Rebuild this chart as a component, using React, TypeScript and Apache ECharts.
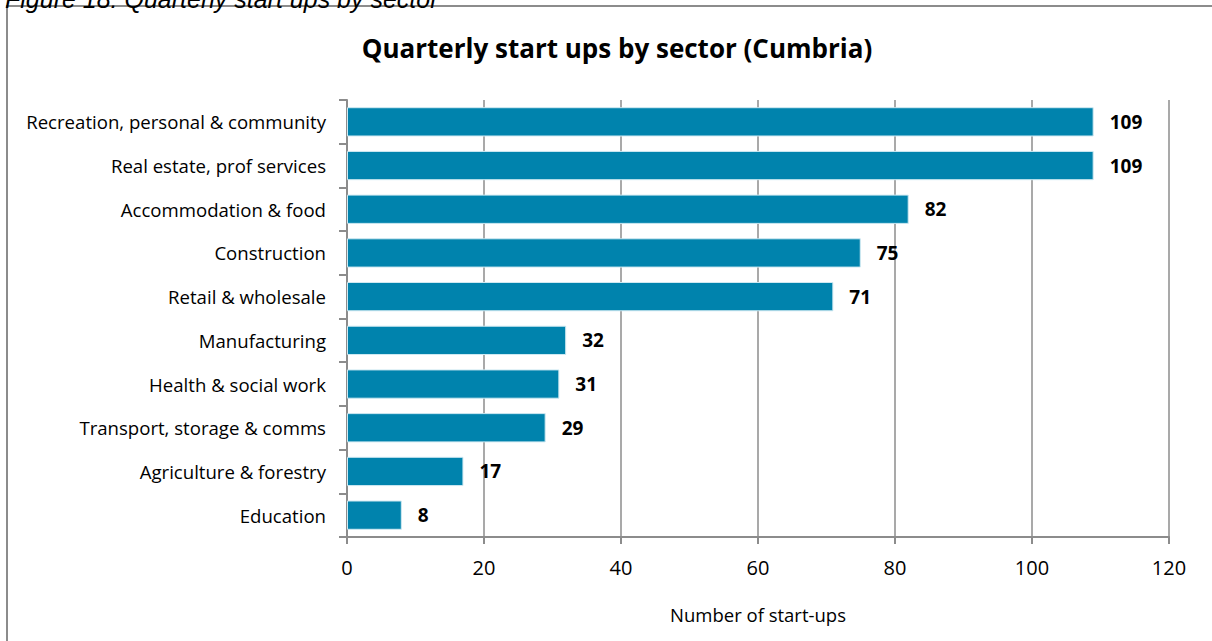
import React, { useEffect, useRef } from "react";
import * as echarts from "echarts";

const categories = [
  "Recreation, personal & community",
  "Real estate, prof services",
  "Accommodation & food",
  "Construction",
  "Retail & wholesale",
  "Manufacturing",
  "Health & social work",
  "Transport, storage & comms",
  "Agriculture & forestry",
  "Education",
];
const startUps = [109, 109, 82, 75, 71, 32, 31, 29, 17, 8];
const xTicks = { min: 0, max: 120, interval: 20 };

const FONT = "'Open Sans', 'Noto Sans', sans-serif";
const GRAY = "#8c8c8c";

export default function App() {
  const ref = useRef<HTMLDivElement>(null);
  useEffect(() => {
    if (!ref.current) return;
    const chart = echarts.init(ref.current, undefined, { renderer: "svg" });
    chart.setOption({
      animation: false,
      backgroundColor: "#ffffff",
      title: {
        text: "Quarterly start ups by sector (Cumbria)",
        left: 612,
        top: 30,
        textAlign: "center",
        textStyle: { fontFamily: FONT, fontSize: 26, fontWeight: "bold", color: "#000" },
      },
      graphic: [
        {
          type: "rect",
          shape: { x: 7, y: 6, width: 1300, height: 700 },
          style: { fill: "none", stroke: GRAY, lineWidth: 2 },
          silent: true,
        },
        {
          type: "text",
          x: 5,
          y: 11,
          style: {
            text: "Figure 18: Quarterly start ups by sector",
            font: "italic 25px 'Liberation Sans', Arial, sans-serif",
            fill: "#000",
            textVerticalAlign: "bottom",
          },
          silent: true,
        },
      ],
      grid: { left: 347, right: 43, top: 100, bottom: 104, outerBoundsMode: "none" },
      xAxis: {
        type: "value",
        min: xTicks.min,
        max: xTicks.max,
        interval: xTicks.interval,
        name: "Number of start-ups",
        nameLocation: "middle",
        nameGap: 68,
        nameTextStyle: { fontFamily: FONT, fontSize: 18.5, color: "#000" },
        axisLine: { show: true, lineStyle: { color: GRAY, width: 2 } },
        axisTick: { show: true, length: 7, lineStyle: { color: GRAY, width: 2 } },
        axisLabel: { fontFamily: FONT, fontSize: 20, color: "#000", margin: 20 },
        splitLine: { show: true, lineStyle: { color: GRAY, width: 1.5 } },
      },
      yAxis: {
        type: "category",
        data: categories,
        inverse: true,
        axisLine: { show: true, lineStyle: { color: GRAY, width: 2 } },
        axisTick: { show: true, length: 8, alignWithLabel: false, lineStyle: { color: GRAY, width: 2 } },
        axisLabel: { fontFamily: FONT, fontSize: 18.6, color: "#000", margin: 21 },
        splitLine: { show: false },
      },
      series: [
        {
          type: "bar",
          data: startUps,
          barCategoryGap: "33%",
          itemStyle: { color: "#0083ad", borderColor: "#cfe9f2", borderWidth: 1 },
          label: {
            show: true,
            position: "right",
            distance: 16,
            fontFamily: FONT,
            fontSize: 19,
            fontWeight: "bold",
            color: "#000",
          },
        },
      ],
    });
    return () => chart.dispose();
  }, []);
  return (
    <div
      ref={ref}
      style={{ position: "fixed", left: 0, top: 0, width: 1212, height: 641 }}
    />
  );
}
